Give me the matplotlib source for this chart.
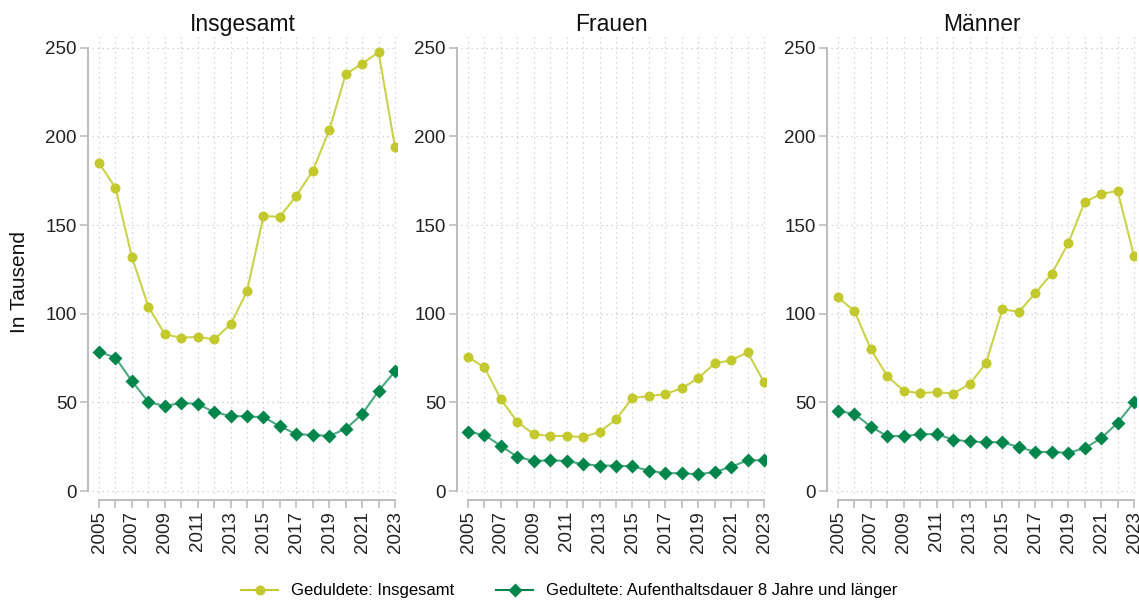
import matplotlib; matplotlib.use('Agg')
import matplotlib.pyplot as plt
from matplotlib.lines import Line2D

plt.rcParams['font.family'] = ['Liberation Sans', 'DejaVu Sans']

years = list(range(2005, 2024))
titles = ['Insgesamt', 'Frauen', 'Männer']

# Geduldete: Insgesamt (in Tausend)
ges_insg = [185, 171, 132, 104, 88.5, 86.4, 87, 85.5, 94, 112.7, 155, 154.7, 166.5, 180.6, 203.5, 235, 241, 247.4, 193.8]
ges_frau = [75.7, 69.7, 51.8, 39, 32.1, 31.1, 31.1, 30.4, 33.4, 40.4, 52.6, 53.5, 54.8, 57.9, 63.7, 72, 73.8, 78.2, 61.4]
ges_mann = [109.2, 101.5, 79.9, 64.8, 56.5, 55.2, 55.8, 55, 60.3, 72.1, 102.6, 101, 111.7, 122.6, 139.7, 163, 167.5, 169.3, 132.5]
# Geduldete mit Aufenthaltsdauer 8 Jahre und laenger
lang_insg = [78.5, 75.3, 62, 50.3, 47.9, 49.8, 49.2, 44.5, 42.4, 42.1, 41.7, 36.6, 32.1, 31.7, 31.1, 35.1, 43.4, 56.5, 67.6]
lang_frau = [33.4, 31.7, 25.5, 19.3, 17, 17.4, 17, 15.2, 14.4, 14.4, 13.9, 11.6, 10.1, 10.1, 9.5, 10.8, 13.7, 17.4, 17.4]
lang_mann = [45.1, 43.6, 36.3, 31, 31, 32.1, 32.1, 29.1, 28, 27.6, 27.6, 24.8, 22.1, 22.1, 21.6, 24.2, 29.8, 38.5, 50]

yticks = [0, 50, 100, 150, 200, 250]
xlabels = [str(y) if (y - 2005) % 2 == 0 else '' for y in years]

YEL = '#c3c92c'
GRN = '#00854a'
GRID = '#c8c8c8'
SPINE = '#bdbdbd'

fig = plt.figure(figsize=(11.39, 6.0), dpi=100)
lefts = [88, 457, 827]
data = [(ges_insg, lang_insg), (ges_frau, lang_frau), (ges_mann, lang_mann)]
for i, (lx, (g, l)) in enumerate(zip(lefts, data)):
    ax = fig.add_axes([lx / 1139, 1 - 500 / 600, 309 / 1139, 463 / 600])
    ax.set_xlim(2004.33, 2023.12)
    ax.set_ylim(-5, 256)
    for y in yticks:
        ax.hlines(y, 2004.55, 2023.12, colors=GRID, lw=0.9, ls=(0, (1, 3)), zorder=0)
    for x in years:
        ax.vlines(x, -1, 256, colors=GRID, lw=0.9, ls=(0, (1, 3)), zorder=0)
    ax.plot(years, g, '-', color=YEL, lw=1.5, alpha=0.85, zorder=2)
    ax.plot(years, g, 'o', color=YEL, ms=7.2, mec='none', zorder=3)
    ax.plot(years, l, '-', color=GRN, lw=1.5, alpha=0.7, zorder=2)
    ax.plot(years, l, 'D', color=GRN, ms=7, mec='none', zorder=3)
    for s in ['top', 'right']:
        ax.spines[s].set_visible(False)
    ax.spines['left'].set_bounds(0, 250)
    ax.spines['bottom'].set_bounds(2005, 2023)
    for s in ['left', 'bottom']:
        ax.spines[s].set_color(SPINE)
        ax.spines[s].set_linewidth(1.5)
    ax.set_yticks(yticks)
    ax.set_yticklabels([str(v) for v in yticks], fontsize=13.5, color='#222222')
    ax.set_xticks(years)
    ax.set_xticklabels(xlabels, rotation=90, fontsize=13.5, color='#222222')
    ax.tick_params(axis='both', length=6, width=1.2, color=SPINE, pad=2)
    ax.set_title(titles[i], fontsize=16.5, pad=4, color='#111111')
    if i == 0:
        ax.set_ylabel('In Tausend', fontsize=15, color='#111111')
        ax.yaxis.set_label_coords(-0.19, 0.47)

handles = [Line2D([], [], color=YEL, lw=1.5, marker='o', ms=7.2, mec='none'),
           Line2D([], [], color=GRN, lw=1.5, marker='D', ms=7, mec='none')]
fig.legend(handles, ['Geduldete: Insgesamt', 'Gedultete: Aufenthaltsdauer 8 Jahre und länger'],
           loc='center', bbox_to_anchor=(0.5, 1 - 591 / 600), ncol=2, frameon=False,
           fontsize=12, handlelength=2.2, columnspacing=2.5, handletextpad=0.8)

fig.savefig('out.png', dpi=100)
